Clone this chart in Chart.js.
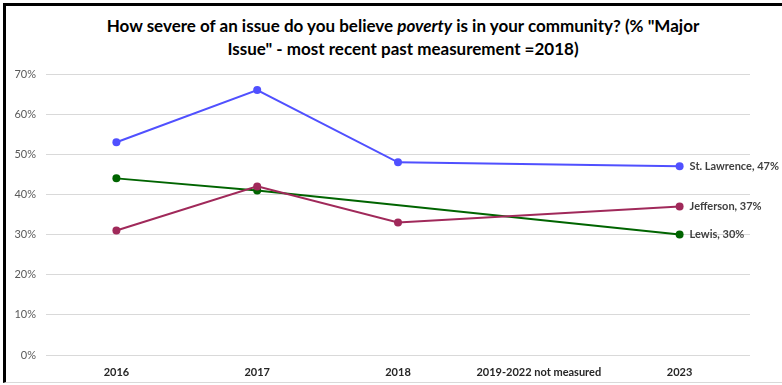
<!DOCTYPE html>
<html>
<head>
<meta charset="utf-8">
<script src="https://cdn.jsdelivr.net/npm/chart.js@4.4.0/dist/chart.umd.min.js"></script>
<style>
    body { margin: 0; background: #fff; }
    #wrap { position: relative; width: 782px; height: 385px; overflow: hidden; }
    #frame { position: absolute; left: 3px; top: 3px; width: 790px; height: 376px;
             border-top: 3px solid #000; border-left: 3px solid #000; border-bottom: 1px solid #d9d9d9; }
    #title { position: absolute; left: 40px; width: 726px; top: 14px; text-align: center;
             font: bold 17px Lato, sans-serif; color: #000; line-height: 23px; }
    canvas { position: absolute; left: 0; top: 0; }
</style>
</head>
<body>
<div id="wrap">
    <div id="frame"></div>
    <div id="title">How severe of an issue do you believe <i>poverty</i> is in your community? (% "Major<br>Issue" - most recent past measurement =2018)</div>
    <canvas id="line-chart" width="782" height="385"></canvas>
</div>
<script>
// datos
var years = ["2016", "2017", "2018", "2019-2022 not measured", "2023"];
var stLawrence = [53, 66, 48, null, 47];
var jefferson = [31, 42, 33, null, 37];
var lewis = [44, 41, null, null, 30];
var yTicks = [0, 10, 20, 30, 40, 50, 60, 70];

// etiquetas al final de cada linea
var endLabels = {
    id: "endLabels",
    afterDatasetsDraw: function(chart) {
        var ctx = chart.ctx;
        ctx.save();
        ctx.font = "bold 11px Lato, sans-serif";
        ctx.fillStyle = "#404040";
        ctx.textBaseline = "middle";
        chart.data.datasets.forEach(function(ds, i) {
            var meta = chart.getDatasetMeta(i);
            var last = ds.data.length - 1;
            var pt = meta.data[last];
            ctx.fillText(ds.label + ", " + ds.data[last] + "%", pt.x + 10, pt.y);
        });
        ctx.restore();
    }
};

var ctx = document.getElementById("line-chart").getContext("2d");
var myChart = new Chart(ctx, {
    type: "line",
    data: {
        labels: years,
        datasets: [{
                label: "St. Lawrence",
                data: stLawrence,
                borderColor: "#5050ff",
                backgroundColor: "#5050ff"
            },
            {
                label: "Jefferson",
                data: jefferson,
                borderColor: "#a0295a",
                backgroundColor: "#a0295a"
            },
            {
                label: "Lewis",
                data: lewis,
                borderColor: "#006400",
                backgroundColor: "#006400"
            }
        ]
    },
    options: {
        responsive: false,
        animation: false,
        spanGaps: true,
        layout: { padding: { top: 74, right: 32, bottom: 0, left: 0 } },
        elements: {
            line: { borderWidth: 2, tension: 0, fill: false },
            point: { radius: 4, borderWidth: 0 }
        },
        plugins: {
            legend: { display: false },
            tooltip: { enabled: false }
        },
        scales: {
            x: {
                offset: true,
                grid: { display: false },
                border: { display: false },
                ticks: { padding: 3, color: "#262626", font: { family: "Lato", size: 11, weight: "bold" }, maxRotation: 0 },
                afterFit: function(scale) { scale.height = 30; }
            },
            y: {
                min: 0,
                max: 70,
                afterBuildTicks: function(scale) {
                    scale.ticks = yTicks.map(function(v) { return { value: v }; });
                },
                grid: { color: "#d9d9d9", drawTicks: false },
                border: { display: false },
                ticks: {
                    padding: 10,
                    color: "#595959",
                    font: { family: "Lato", size: 11 },
                    callback: function(v) { return v + "%"; }
                },
                afterFit: function(scale) { scale.width = 46; }
            }
        }
    },
    plugins: [endLabels]
});
</script>
</body>
</html>
